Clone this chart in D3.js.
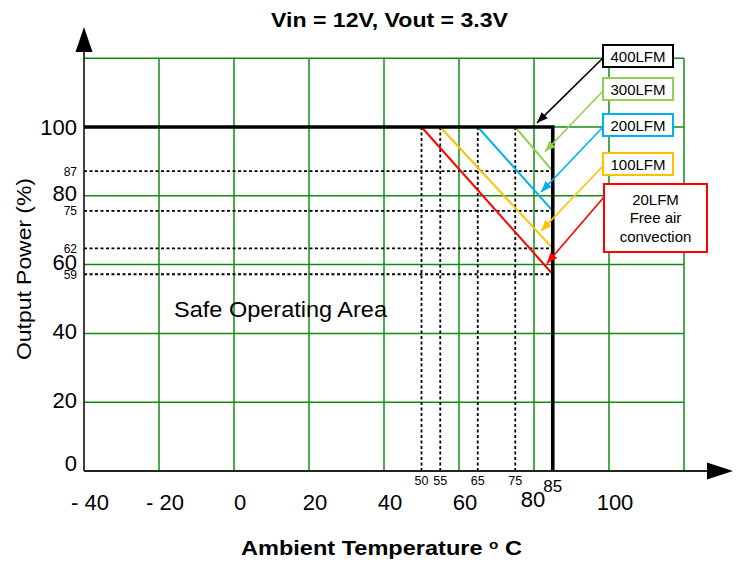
<!DOCTYPE html>
<html>
<head>
<meta charset="utf-8">
<script src="https://cdn.jsdelivr.net/npm/d3@7"></script>
<style>
  body { margin: 0; background: #fff; }
  svg { display: block; }
  text { font-family: "Liberation Sans", Arial, sans-serif; }
</style>
</head>
<body>
<div id="chart"></div>
<script>
"use strict";

var width = 739,
  height = 563;

// airflow curves, top legend box first
var airflow = ["400LFM", "300LFM", "200LFM", "100LFM", "20LFM"];
var airflowNote = [[], [], [], [], ["Free air", "convection"]];
var airflowColor = ["#000000", "#92d050", "#00b0f0", "#ffc000", "#ff0000"];
var derateStart = [85, 75, 65, 55, 50]; // degC where derating begins
var powerAt85 = [100, 87.2, 75.6, 64.7, 57.2]; // % at 85 degC, as drawn
var powerLabels = ["", "87", "75", "62", "59"];
// where each legend arrow points, in chart units
var tipTemp = [80.8, 82.9, 81.9, 81.9, 83.4];
var tipPower = [101.2, 92.8, 81.1, 69.8, 60.3];

var xTicks = [-40, -20, 0, 20, 40, 60, 80, 100];
var xTickLabels = ["- 40", "- 20", "0", "20", "40", "60", "80", "100"];
var yTicks = [0, 20, 40, 60, 80, 100];
var maxTemp = 85;

var x = d3.scaleLinear().domain([-40, 120]).range([84, 684]);
var y = d3.scaleLinear().domain([0, 120]).range([471, 58.2]);

var svg = d3
  .select("#chart")
  .append("svg")
  .attr("width", width)
  .attr("height", height);

var gridColor = "#138c13";

// green grid
svg
  .selectAll("line.vgrid")
  .data(d3.range(-20, 121, 20))
  .enter()
  .append("line")
  .attr("class", "vgrid")
  .attr("x1", d => x(d))
  .attr("x2", d => x(d))
  .attr("y1", y(0))
  .attr("y2", y(120))
  .attr("stroke", gridColor)
  .attr("stroke-width", 1.5);

svg
  .selectAll("line.hgrid")
  .data(d3.range(20, 121, 20))
  .enter()
  .append("line")
  .attr("class", "hgrid")
  .attr("x1", x(-40))
  .attr("x2", x(120))
  .attr("y1", d => y(d))
  .attr("y2", d => y(d))
  .attr("stroke", gridColor)
  .attr("stroke-width", 1.5);

// dashed guide lines
var derated = d3.range(1, airflow.length);

svg
  .selectAll("line.hdash")
  .data(derated)
  .enter()
  .append("line")
  .attr("class", "hdash")
  .attr("x1", x(-40))
  .attr("x2", x(maxTemp))
  .attr("y1", i => y(powerAt85[i]))
  .attr("y2", i => y(powerAt85[i]))
  .attr("stroke", "#000")
  .attr("stroke-width", 1.8)
  .attr("stroke-dasharray", "3,2.5");

svg
  .selectAll("line.vdash")
  .data(derated)
  .enter()
  .append("line")
  .attr("class", "vdash")
  .attr("x1", i => x(derateStart[i]))
  .attr("x2", i => x(derateStart[i]))
  .attr("y1", y(100))
  .attr("y2", y(0))
  .attr("stroke", "#000")
  .attr("stroke-width", 1.8)
  .attr("stroke-dasharray", "3,2.5");

// derating lines
svg
  .selectAll("line.derate")
  .data(derated)
  .enter()
  .append("line")
  .attr("class", "derate")
  .attr("x1", i => x(derateStart[i]))
  .attr("y1", y(100))
  .attr("x2", x(maxTemp))
  .attr("y2", i => y(powerAt85[i]))
  .attr("stroke", i => airflowColor[i])
  .attr("stroke-width", 2);

// safe operating boundary (400LFM)
var line = d3
  .line()
  .x(d => x(d[0]))
  .y(d => y(d[1]));

svg
  .append("path")
  .datum([[-40, 100], [maxTemp, 100], [maxTemp, 0]])
  .attr("d", line)
  .attr("fill", "none")
  .attr("stroke", "#000")
  .attr("stroke-width", 3.6)
  .attr("stroke-linejoin", "miter");

// axes with arrows
svg
  .append("line")
  .attr("x1", x(-40))
  .attr("x2", x(-40))
  .attr("y1", y(0))
  .attr("y2", 50)
  .attr("stroke", "#111")
  .attr("stroke-width", 1.6);
svg
  .append("path")
  .attr("d", "M" + x(-40) + ",27 L" + (x(-40) - 8.5) + ",52 L" + (x(-40) + 8.5) + ",52 Z")
  .attr("fill", "#000");

svg
  .append("line")
  .attr("x1", x(-40))
  .attr("x2", 708)
  .attr("y1", y(0))
  .attr("y2", y(0))
  .attr("stroke", "#222")
  .attr("stroke-width", 2);
svg
  .append("path")
  .attr("d", "M733," + y(0) + " L707," + (y(0) - 8.5) + " L707," + (y(0) + 8.5) + " Z")
  .attr("fill", "#000");

// tick labels
svg
  .selectAll("text.xtick")
  .data(xTicks)
  .enter()
  .append("text")
  .attr("class", "xtick")
  .attr("x", d => x(d) + (d === 80 ? -1 : 6))
  .attr("y", d => (d === 80 ? 507 : 510))
  .attr("text-anchor", "middle")
  .attr("font-size", 22)
  .text((d, i) => xTickLabels[i]);

svg
  .append("text")
  .attr("x", x(maxTemp))
  .attr("y", 492)
  .attr("text-anchor", "middle")
  .attr("font-size", 17)
  .text(maxTemp);

svg
  .selectAll("text.xminor")
  .data(derated)
  .enter()
  .append("text")
  .attr("class", "xminor")
  .attr("x", i => x(derateStart[i]))
  .attr("y", 485)
  .attr("text-anchor", "middle")
  .attr("font-size", 12.5)
  .text(i => derateStart[i]);

svg
  .selectAll("text.ytick")
  .data(yTicks)
  .enter()
  .append("text")
  .attr("class", "ytick")
  .attr("x", 77)
  .attr("y", d => y(d) + (d === 0 ? 0 : d === 100 ? 8 : 5.5))
  .attr("text-anchor", "end")
  .attr("font-size", 22)
  .text(d => d);

svg
  .selectAll("text.yminor")
  .data(derated)
  .enter()
  .append("text")
  .attr("class", "yminor")
  .attr("x", 77)
  .attr("y", i => y(powerAt85[i]) + 4.5)
  .attr("text-anchor", "end")
  .attr("font-size", 12)
  .text(i => powerLabels[i]);

// titles
svg
  .append("text")
  .attr("x", 271)
  .attr("y", 26.5)
  .attr("font-size", 20)
  .attr("font-weight", "bold")
  .attr("textLength", 237)
  .attr("lengthAdjust", "spacingAndGlyphs")
  .text("Vin = 12V, Vout = 3.3V");

var xTitle = svg
  .append("text")
  .attr("x", 241)
  .attr("y", 555)
  .attr("font-size", 20)
  .attr("font-weight", "bold")
  .attr("textLength", 281)
  .attr("lengthAdjust", "spacingAndGlyphs");
xTitle.append("tspan").text("Ambient Temperature  ");
xTitle.append("tspan").attr("font-size", 13).attr("dy", -6).text("o");
xTitle.append("tspan").attr("dy", 6).text(" C");

svg
  .append("text")
  .attr("transform", "translate(31,360) rotate(-90)")
  .attr("font-size", 21)
  .attr("textLength", 182)
  .attr("lengthAdjust", "spacingAndGlyphs")
  .text("Output Power (%)");

svg
  .append("text")
  .attr("x", 174)
  .attr("y", 316.5)
  .attr("font-size", 22)
  .attr("textLength", 213)
  .attr("lengthAdjust", "spacingAndGlyphs")
  .text("Safe Operating Area");

// legend boxes with arrows
var defs = svg.append("defs");
airflowColor.forEach(function(c, i) {
  defs
    .append("marker")
    .attr("id", "head" + i)
    .attr("viewBox", "0 0 10 8")
    .attr("refX", 10)
    .attr("refY", 4)
    .attr("markerWidth", 11)
    .attr("markerHeight", 9)
    .attr("markerUnits", "userSpaceOnUse")
    .attr("orient", "auto")
    .append("path")
    .attr("d", "M0,0 L10,4 L0,8 Z")
    .attr("fill", c);
});

var boxTop = [45, 78, 114, 153, 184];

var legend = svg
  .selectAll("g.legend")
  .data(airflow)
  .enter()
  .append("g")
  .attr("class", "legend");

legend
  .append("line")
  .attr("x1", (d, i) => (airflowNote[i].length ? 604 : 603))
  .attr("y1", (d, i) => boxTop[i] + 13)
  .attr("x2", (d, i) => x(tipTemp[i]))
  .attr("y2", (d, i) => y(tipPower[i]))
  .attr("stroke", (d, i) => airflowColor[i])
  .attr("stroke-width", 1.6)
  .attr("marker-end", (d, i) => "url(#head" + i + ")");

legend
  .append("rect")
  .attr("x", (d, i) => (airflowNote[i].length ? 604 : 603))
  .attr("y", (d, i) => boxTop[i])
  .attr("width", (d, i) => (airflowNote[i].length ? 103 : 70))
  .attr("height", (d, i) => (airflowNote[i].length ? 68 : 22))
  .attr("fill", "#fff")
  .attr("stroke", (d, i) => airflowColor[i])
  .attr("stroke-width", 2);

legend.each(function(d, i) {
  var lines = [d].concat(airflowNote[i]);
  var cx = airflowNote[i].length ? 655.5 : 638;
  d3.select(this)
    .selectAll("text")
    .data(lines)
    .enter()
    .append("text")
    .attr("x", cx)
    .attr("y", (t, j) => boxTop[i] + 16.5 + (lines.length > 1 ? 4 : 0) + j * 18.5)
    .attr("text-anchor", "middle")
    .attr("font-size", 15)
    .text(t => t);
});
</script>
</body>
</html>
